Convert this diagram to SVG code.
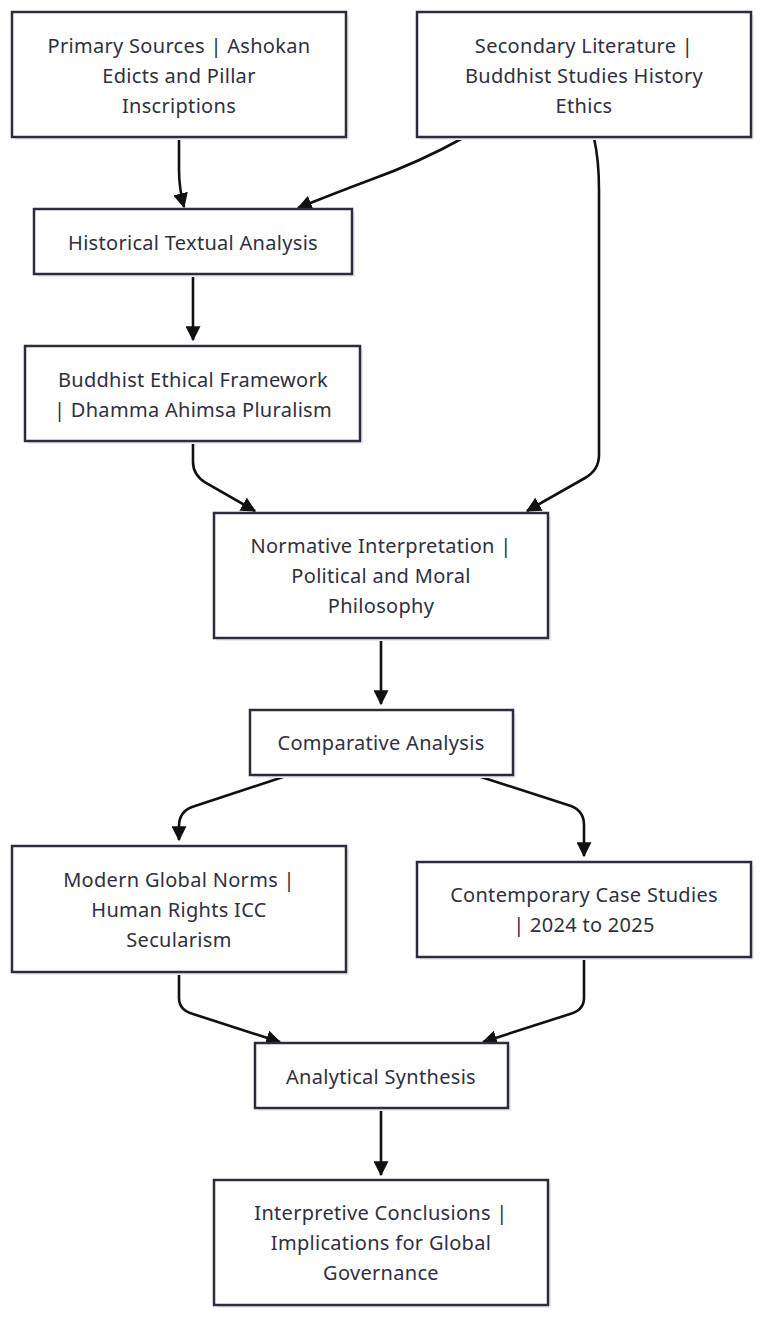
<svg xmlns="http://www.w3.org/2000/svg" width="763" height="1318" viewBox="0 0 763 1318">
  <style>
    .box { fill: #ffffff; stroke: #2c2c3e; stroke-width: 2.5; }
    .shadow { fill: #ebebf0; }
    .label { font-family: "Noto Sans", "Open Sans", sans-serif; font-size: 20px; letter-spacing: 0.3px; fill: #2f2f40; text-anchor: middle; dominant-baseline: central; }
    .edge { fill: none; stroke: #111111; stroke-width: 2.6; }
  </style>
  <defs>
    <marker id="arrow" viewBox="0 0 12 12" refX="11" refY="6" markerWidth="15" markerHeight="15" markerUnits="userSpaceOnUse" orient="auto">
      <path d="M0,0 L12,6 L0,12 z" fill="#111111"/>
    </marker>
  </defs>

  <rect width="763" height="1318" fill="#ffffff"/>

  <!-- connectors -->
  <g id="edges">
    <path class="edge" marker-end="url(#arrow)" d="M179,138 L179,170 Q179,188 184,207"/>
    <path class="edge" marker-end="url(#arrow)" d="M463,138 Q420,162 370,180 Q330,195 298,208"/>
    <path class="edge" marker-end="url(#arrow)" d="M193,275 L193,340"/>
    <path class="edge" marker-end="url(#arrow)" d="M193,442 L193,462 Q193,475 206,483 L255,511"/>
    <path class="edge" marker-end="url(#arrow)" d="M594,138 Q599,160 599,190 L599,455 Q599,470 585,478 L527,511"/>
    <path class="edge" marker-end="url(#arrow)" d="M381,639 L381,704"/>
    <path class="edge" marker-end="url(#arrow)" d="M286,776 L192,807 Q179,812 179,826 L179,840"/>
    <path class="edge" marker-end="url(#arrow)" d="M478,776 L571,806 Q584,811 584,825 L584,856"/>
    <path class="edge" marker-end="url(#arrow)" d="M179,973 L179,998 Q179,1010 193,1014 L280,1042"/>
    <path class="edge" marker-end="url(#arrow)" d="M584,958 L584,998 Q584,1010 570,1014 L483,1042"/>
    <path class="edge" marker-end="url(#arrow)" d="M381,1109 L381,1175"/>
  </g>

  <g id="primary">
    <rect class="shadow" x="15" y="15" width="334" height="125"/>
    <rect class="box" x="12" y="12" width="334" height="125"/>
    <text class="label" x="179" y="45">Primary Sources | Ashokan</text>
    <text class="label" x="179" y="75">Edicts and Pillar</text>
    <text class="label" x="179" y="105">Inscriptions</text>
  </g>

  <g id="secondary">
    <rect class="shadow" x="420" y="15" width="334" height="125"/>
    <rect class="box" x="417" y="12" width="334" height="125"/>
    <text class="label" x="584" y="45">Secondary Literature |</text>
    <text class="label" x="584" y="75">Buddhist Studies History</text>
    <text class="label" x="584" y="105">Ethics</text>
  </g>

  <g id="historical">
    <rect class="shadow" x="37" y="212" width="318" height="65"/>
    <rect class="box" x="34" y="209" width="318" height="65"/>
    <text class="label" x="193" y="242">Historical Textual Analysis</text>
  </g>

  <g id="framework">
    <rect class="shadow" x="28" y="349" width="335" height="95"/>
    <rect class="box" x="25" y="346" width="335" height="95"/>
    <text class="label" x="193" y="379">Buddhist Ethical Framework</text>
    <text class="label" x="193" y="409">| Dhamma Ahimsa Pluralism</text>
  </g>

  <g id="normative">
    <rect class="shadow" x="217" y="516" width="334" height="125"/>
    <rect class="box" x="214" y="513" width="334" height="125"/>
    <text class="label" x="381" y="545">Normative Interpretation |</text>
    <text class="label" x="381" y="575">Political and Moral</text>
    <text class="label" x="381" y="605">Philosophy</text>
  </g>

  <g id="comparative">
    <rect class="shadow" x="253" y="713" width="263" height="65"/>
    <rect class="box" x="250" y="710" width="263" height="65"/>
    <text class="label" x="381" y="742">Comparative Analysis</text>
  </g>

  <g id="norms">
    <rect class="shadow" x="15" y="849" width="334" height="126"/>
    <rect class="box" x="12" y="846" width="334" height="126"/>
    <text class="label" x="179" y="879">Modern Global Norms |</text>
    <text class="label" x="179" y="909">Human Rights ICC</text>
    <text class="label" x="179" y="939">Secularism</text>
  </g>

  <g id="cases">
    <rect class="shadow" x="420" y="865" width="334" height="95"/>
    <rect class="box" x="417" y="862" width="334" height="95"/>
    <text class="label" x="584" y="894">Contemporary Case Studies</text>
    <text class="label" x="584" y="924">| 2024 to 2025</text>
  </g>

  <g id="synthesis">
    <rect class="shadow" x="258" y="1046" width="253" height="65"/>
    <rect class="box" x="255" y="1043" width="253" height="65"/>
    <text class="label" x="381" y="1076">Analytical Synthesis</text>
  </g>

  <g id="conclusions">
    <rect class="shadow" x="217" y="1183" width="334" height="125"/>
    <rect class="box" x="214" y="1180" width="334" height="125"/>
    <text class="label" x="381" y="1212">Interpretive Conclusions |</text>
    <text class="label" x="381" y="1242">Implications for Global</text>
    <text class="label" x="381" y="1272">Governance</text>
  </g>
</svg>
